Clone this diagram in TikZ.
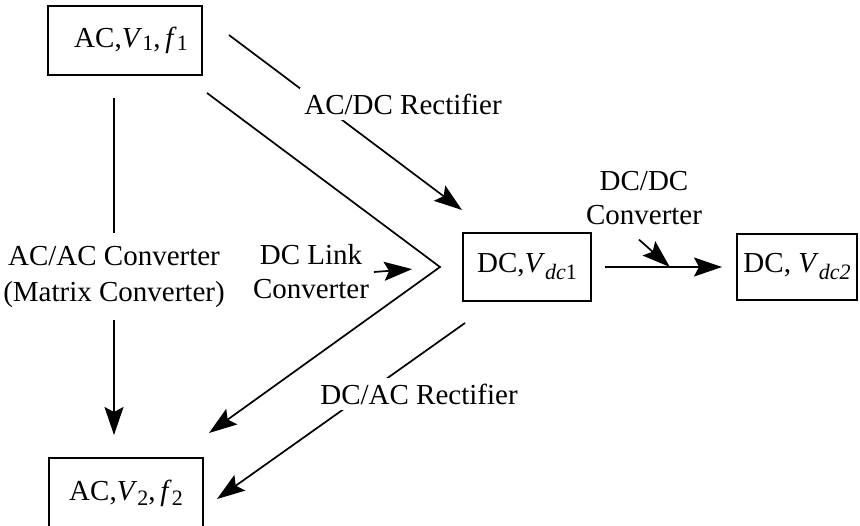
\documentclass[tikz,border=0pt]{standalone}
\usepackage{fontspec}
\setmainfont{Liberation Serif}
\usetikzlibrary{arrows.meta}
\newcommand\lowsub[2][2.5pt]{\raisebox{-#1}{\fontsize{11}{11}\selectfont#2}}

\begin{document}
\begin{tikzpicture}[
x=0.5pt, y=-0.5pt,
line width=0.85pt,
>={Stealth[length=14pt,width=9.5pt,inset=2.5pt]},
font=\fontsize{14.5}{17}\selectfont,
    X/.style = {rectangle, draw,% boxes for the supplies
                inner sep=0pt, outer sep=0pt},
    L/.style = {align=center, fill=white, inner xsep=2pt, inner ysep=3pt},
                        ]
\useasboundingbox (0,0) rectangle (860,525);
% supplies
\node (A1) [X, minimum width=77pt, minimum height=34.5pt] at (125,40.5)
      {\hspace{6pt}AC,\textit{V}\lowsub[1.5pt]{1},\,\textit{f}\lowsub[1.5pt]{1}};
\node (A2) [X, minimum width=77pt, minimum height=35pt] at (126,493)
      {AC,\textit{V}\lowsub{2},\,\textit{f}\lowsub{2}};
\node (D1) [X, minimum width=64pt, minimum height=34pt] at (527,267)
      {DC,\textit{V}\lowsub[3.5pt]{\textit{dc}1}};
\node (D2) [X, minimum width=60pt, minimum height=33pt] at (797,267)
      {DC, \textit{V}\lowsub[3.5pt]{\textit{dc2}}};
% AC/DC
\draw[->] ([shift={(27,-5.5)}]A1.east) -- ([shift={(-1,-23)}]D1.north west);
\node (L1) [L] at (403,104) {AC/DC Rectifier};
% DC link, in and out
\coordinate (V) at ([shift={(-23,0)}]D1.west);
\draw[->] ([shift={(5,18)}]A1.south east) -- (V) -- ([shift={(6,-25)}]A2.north east);
\node (L2) [L] at (311,272) {DC Link\\Converter};
\draw[->, shorten >=14pt] (L2.east) -- (V);
% DC/DC
\draw[->, shorten <=7pt, shorten >=7.5pt] (D1) -- coordinate[pos=0.54] (T) (D2);
\node (L3) [L] at (644,198) {DC/DC\\Converter};
\draw[->] ([shift={(-5,8)}]L3.south) -- (T);
% AC/AC
\draw[->] ([shift={(-11,23)}]A1.south) --
      node (L4) [L, pos=0.53, inner ysep=6.5pt, font=\fontsize{14.5}{18}\selectfont]
      {AC/AC Converter\\(Matrix Converter)} ([shift={(-12,-23)}]A2.north);
% DC/AC
\draw[->] ([shift={(2,22)}]D1.south west) -- ([shift={(14,6)}]A2.east);
\node (L5) [L] at (419,394) {DC/AC Rectifier};
\end{tikzpicture}
\end{document}
